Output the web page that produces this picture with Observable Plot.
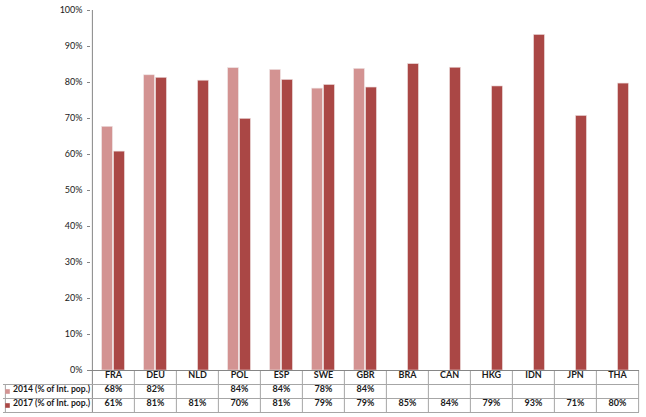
<!DOCTYPE html>
<html>
<head>
<meta charset="utf-8">
<script src="https://cdn.jsdelivr.net/npm/d3@7"></script>
<script src="https://cdn.jsdelivr.net/npm/@observablehq/plot@0.6"></script>
<style>
  html, body { margin: 0; padding: 0; background: #fff; }
  #chart svg { display: block; }
</style>
</head>
<body>
<div id="chart"></div>
<script>
const categories = ["FRA","DEU","NLD","POL","ESP","SWE","GBR","BRA","CAN","HKG","IDN","JPN","THA"];
const series2014Name = "2014 (% of Int. pop.)";
const series2017Name = "2017 (% of Int. pop.)";
const values2014 = [67.7, 82.0, null, 84.0, 83.5, 78.3, 83.8, null, null, null, null, null, null];
const values2017 = [60.8, 81.3, 80.5, 69.9, 80.7, 79.3, 78.6, 85.1, 84.1, 78.9, 93.2, 70.7, 79.7];
const labels2014 = ["68%","82%","","84%","84%","78%","84%","","","","","",""];
const labels2017 = ["61%","81%","81%","70%","81%","79%","79%","85%","84%","79%","93%","71%","80%"];
const yTicks = [0,10,20,30,40,50,60,70,80,90,100];

const color2014 = "#d39392";
const color2017 = "#aa4745";
const W = 646, H = 417;
const mL = 90, mR = 7, mT = 10, mB = 47;
const bw = (W - mL - mR) / categories.length;
const rowH = 14;
const barW = 11;
const inset = (bw - barW) / 2;
const font = "Lato, 'Open Sans', sans-serif";

const rows2014 = categories.map((c, i) => ({cat: c, v: values2014[i], label: labels2014[i]}));
const rows2017 = categories.map((c, i) => ({cat: c, v: values2017[i], label: labels2017[i]}));
const legendRows = [
  {name: series2014Name, color: color2014, row: 1},
  {name: series2017Name, color: color2017, row: 2}
];

const gridColor = "#a6a6a6";
const textColor = "#1a1a1a";

const chart = Plot.plot({
  width: W, height: H,
  marginLeft: mL, marginRight: mR, marginTop: mT, marginBottom: mB,
  style: {fontFamily: font, fontSize: "9px", color: textColor, background: "#fff"},
  x: {domain: categories, padding: 0, axis: null},
  y: {domain: [0, 100], axis: null},
  marks: [
    // y axis ticks and labels
    Plot.axisY({ticks: yTicks, tickFormat: d => d + "%", tickSize: 3, tickPadding: 5, stroke: "#868686", fill: textColor, fontSize: 9, label: null}),
    // bars
    Plot.barY(rows2014.filter(d => d.v != null), {x: "cat", y: "v", fill: color2014, insetLeft: inset, insetRight: inset, dx: -6, stroke: "#eee4e4", strokeWidth: 0.6}),
    Plot.barY(rows2017, {x: "cat", y: "v", fill: color2017, insetLeft: inset, insetRight: inset, dx: 6, stroke: "#ead8d8", strokeWidth: 0.6}),
    // axis line / left border of table
    Plot.ruleX([categories[0]], {dx: -bw / 2, stroke: "#868686", insetBottom: -3 * rowH}),
    // table vertical lines
    Plot.ruleX(categories.slice(1), {dx: -bw / 2, stroke: gridColor, insetTop: H - mT - mB, insetBottom: -3 * rowH}),
    Plot.ruleX([categories[categories.length - 1]], {dx: bw / 2, stroke: gridColor, insetTop: H - mT - mB, insetBottom: -3 * rowH}),
    // legend column left border
    Plot.ruleX([categories[0]], {dx: -bw / 2 - 87, stroke: gridColor, insetTop: H - mT - mB + rowH, insetBottom: -3 * rowH}),
    // table horizontal lines
    Plot.ruleY([0], {stroke: "#868686"}),
    Plot.ruleY([0], {dy: rowH, stroke: gridColor, insetLeft: -87}),
    Plot.ruleY([0], {dy: 2 * rowH, stroke: gridColor, insetLeft: -87}),
    Plot.ruleY([0], {dy: 3 * rowH, stroke: gridColor, insetLeft: -87}),
    // header labels
    Plot.text(categories, {x: d => d, frameAnchor: "bottom", dy: rowH / 2 + 0.5, fill: textColor, fontSize: 9, fontWeight: "bold"}),
    Plot.text(rows2014, {x: "cat", text: "label", frameAnchor: "bottom", dy: rowH * 1.5 + 0.5, fill: textColor, fontSize: 9, fontWeight: "bold"}),
    Plot.text(rows2017, {x: "cat", text: "label", frameAnchor: "bottom", dy: rowH * 2.5 + 0.5, fill: textColor, fontSize: 9, fontWeight: "bold"}),
    // legend keys
    ...legendRows.map(r => Plot.dot([r], {frameAnchor: "bottom-left", dx: -83, dy: rowH * (r.row + 0.5), symbol: "square", r: 2.6, fill: r.color})),
    ...legendRows.map(r => Plot.text([r], {frameAnchor: "bottom-left", dx: -77.5, dy: rowH * (r.row + 0.5) + 0.5, text: "name", textAnchor: "start", fill: textColor, fontSize: 8.6, fontWeight: "bold"}))
  ]
});
document.getElementById("chart").appendChild(chart);
</script>
</body>
</html>
